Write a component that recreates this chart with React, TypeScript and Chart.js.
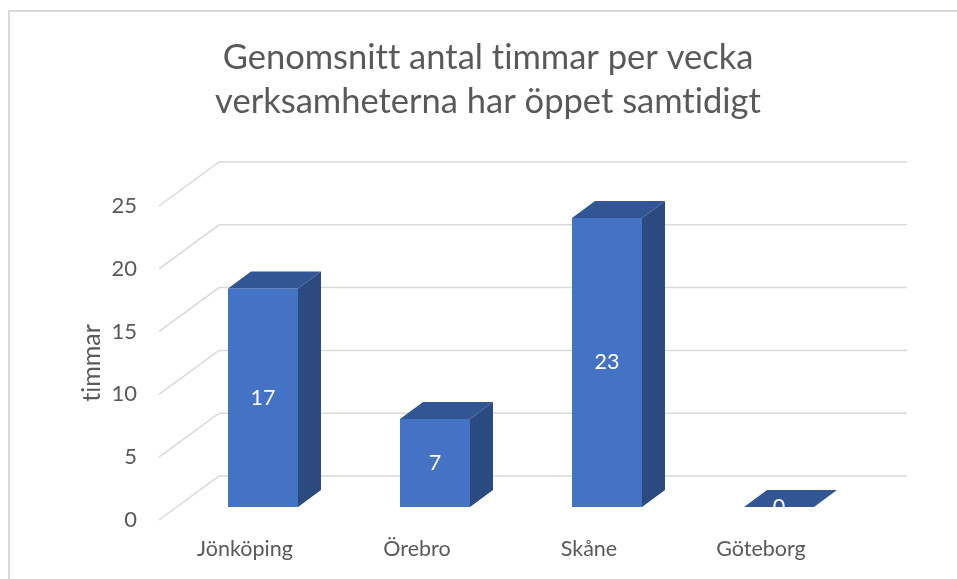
import React, { useEffect, useRef } from "react";
import { Chart, registerables } from "chart.js";

Chart.register(...registerables);

// ---- data ----
const categories = ["Jönköping", "Örebro", "Skåne", "Göteborg"];
const values = [17.4, 7, 23, 0];
const yTickStep = 5;
const yMax = 25;
const titleLines = ["Genomsnitt antal timmar per vecka", "verksamheterna har öppet samtidigt"];
const yAxisTitle = "timmar";

// ---- styles ----
const FONT = "Lato, 'Open Sans', sans-serif";
const GRAY = "#595959";
const GRID = "#d9d9d9";
const FRONT = "#4472C4";
const TOP = "#325694";
const SIDE = "#2B4A80";

const WALL_DX = 60;
const WALL_DY = -44;
const BAR_DX = 18;
const BAR_DY = -13;
const DEPTH_DX = 23;
const DEPTH_DY = -17;

const threeD = {
  id: "threeD",
  beforeInit(chart: any) {
    try {
      (chart.ctx as any).textRendering = "optimizeSpeed";
    } catch (e) {}
  },
  beforeDraw(chart: any) {
    const { ctx, width, height } = chart;
    try {
      (ctx as any).textRendering = "optimizeSpeed";
    } catch (e) {}
    ctx.save();
    ctx.fillStyle = "#ffffff";
    ctx.fillRect(0, 0, width, height);
    ctx.strokeStyle = GRID;
    ctx.lineWidth = 2;
    ctx.beginPath();
    ctx.moveTo(9, height);
    ctx.lineTo(9, 11);
    ctx.lineTo(width, 11);
    ctx.stroke();
    ctx.fillStyle = GRAY;
    ctx.font = `34.5px ${FONT}`;
    ctx.textAlign = "center";
    ctx.textBaseline = "middle";
    titleLines.forEach((t, i) => ctx.fillText(t, 488, 58 + i * 44));
    ctx.restore();
  },
  beforeDatasetsDraw(chart: any) {
    const { ctx, chartArea } = chart;
    const y = chart.scales.y;
    ctx.save();
    ctx.strokeStyle = GRID;
    ctx.lineWidth = 1.5;
    y.ticks.forEach((t: any) => {
      const py = y.getPixelForValue(t.value);
      ctx.beginPath();
      ctx.moveTo(chartArea.left, py);
      ctx.lineTo(chartArea.left + WALL_DX, py + WALL_DY);
      ctx.lineTo(chartArea.right + WALL_DX, py + WALL_DY);
      ctx.stroke();
    });
    ctx.restore();
    ctx.save();
    ctx.translate(BAR_DX, BAR_DY);
  },
  afterDatasetsDraw(chart: any) {
    const ctx = chart.ctx;
    const meta = chart.getDatasetMeta(0);
    meta.data.forEach((el: any) => {
      const { x, y, base, width } = el.getProps(["x", "y", "base", "width"], true);
      const l = x - width / 2;
      const r = x + width / 2;
      ctx.fillStyle = SIDE;
      ctx.beginPath();
      ctx.moveTo(r, y);
      ctx.lineTo(r + DEPTH_DX, y + DEPTH_DY);
      ctx.lineTo(r + DEPTH_DX, base + DEPTH_DY);
      ctx.lineTo(r, base);
      ctx.closePath();
      ctx.fill();
      ctx.fillStyle = TOP;
      ctx.beginPath();
      ctx.moveTo(l, y);
      ctx.lineTo(l + DEPTH_DX, y + DEPTH_DY);
      ctx.lineTo(r + DEPTH_DX, y + DEPTH_DY);
      ctx.lineTo(r, y);
      ctx.closePath();
      ctx.fill();
    });
    ctx.fillStyle = "#ffffff";
    ctx.font = `21.5px ${FONT}`;
    ctx.textAlign = "center";
    ctx.textBaseline = "middle";
    meta.data.forEach((el: any, i: number) => {
      const { x, y, base } = el.getProps(["x", "y", "base"], true);
      ctx.fillText(String(Math.round(values[i])), x, (y + base) / 2);
    });
    ctx.restore();
  },
};

export default function App() {
  const ref = useRef<HTMLCanvasElement | null>(null);
  useEffect(() => {
    if (!ref.current) return;
    const chart = new Chart(ref.current, {
      type: "bar",
      data: {
        labels: categories,
        datasets: [
          {
            data: values,
            backgroundColor: FRONT,
            borderWidth: 0,
            categoryPercentage: 1,
            barPercentage: 0.407,
            clip: false as any,
          },
        ],
      },
      options: {
        animation: false,
        responsive: false,
        events: [],
        layout: { padding: { left: 77, right: 110, top: 206, bottom: 0 } },
        plugins: {
          legend: { display: false },
          title: { display: false },
          tooltip: { enabled: false },
        },
        scales: {
          x: {
            grid: { display: false, drawTicks: false },
            border: { display: false },
            ticks: { color: GRAY, font: { family: FONT, size: 21.5 }, padding: 16 },
            afterFit: (s: any) => {
              s.height = 59;
            },
          },
          y: {
            min: 0,
            max: yMax,
            grid: { display: false, drawTicks: false },
            border: { display: false },
            ticks: { stepSize: yTickStep, color: GRAY, font: { family: FONT, size: 22 }, padding: 22 },
            title: {
              display: true,
              text: yAxisTitle,
              color: GRAY,
              font: { family: FONT, size: 25 },
              padding: 0,
              lineHeight: 1.0,
            },
            afterFit: (s: any) => {
              s.width = 82;
            },
          },
        },
      },
      plugins: [threeD],
    });
    return () => chart.destroy();
  }, []);
  return (
    <div style={{ position: "absolute", left: 0, top: 0, width: 957, height: 579 }}>
      <canvas ref={ref} width={957} height={579} style={{ display: "block", width: 957, height: 579 }} />
    </div>
  );
}
